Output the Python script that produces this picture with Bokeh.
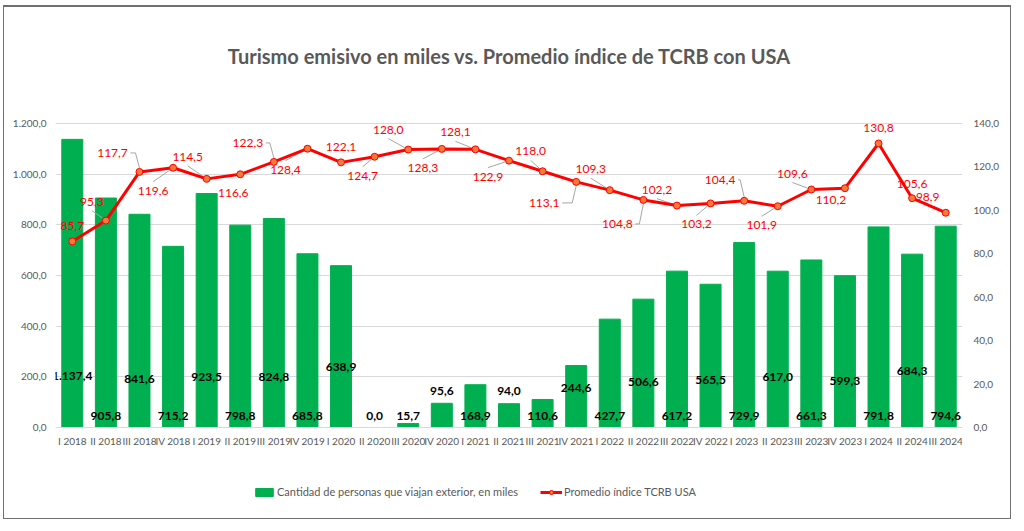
import math
from bokeh.plotting import figure
from bokeh.models import (FactorRange, Range1d, LinearAxis, ColumnDataSource, LabelSet, Label,
                          Legend, LegendItem, CustomJSTickFormatter, FixedTicker)
from bokeh.core.properties import value
from bokeh.embed import file_html
from bokeh.resources import INLINE

# ---------------- data ----------------
quarters = ["I 2018", "II 2018", "III 2018", "IV 2018",
            "I 2019", "II 2019", "III 2019", "IV 2019",
            "I 2020", "II 2020", "III 2020", "IV 2020",
            "I 2021", "II 2021", "III 2021", "IV 2021",
            "I 2022", "II 2022", "III 2022", "IV 2022",
            "I 2023", "II 2023", "III 2023", "IV 2023",
            "I 2024", "II 2024", "III 2024"]
travellers = [1137.4, 905.8, 841.6, 715.2,
              923.5, 798.8, 824.8, 685.8,
              638.9, 0.0, 15.7, 95.6,
              168.9, 94.0, 110.6, 244.6,
              427.7, 506.6, 617.2, 565.5,
              729.9, 617.0, 661.3, 599.3,
              791.8, 684.3, 794.6]
tcrb = [85.7, 95.3, 117.7, 119.6,
        114.5, 116.6, 122.3, 128.4,
        122.1, 124.7, 128.0, 128.3,
        128.1, 122.9, 118.0, 113.1,
        109.3, 104.8, 102.2, 103.2,
        104.4, 101.9, 109.6, 110.2,
        130.8, 105.6, 98.9]
left_ticks = [0, 200, 400, 600, 800, 1000, 1200]
right_ticks = [0, 20, 40, 60, 80, 100, 120, 140]
series_bar = "Cantidad de personas que viajan exterior, en miles"
series_line = "Promedio índice TCRB USA"
title_text = "Turismo emisivo en miles vs. Promedio índice de TCRB con USA"

# ---------------- layout / styling (pixels, figure coordinates) ----------------
W, H = 1008, 514                   # figure size (page origin of figure content is (4, 7))
MB_L, MB_R, MB_T, MB_B = 51, 50, 10, 20
FRAME_TOP, FRAME_BOT = MB_T, H - MB_B
Y0_PX, YMAX_PX = 420, 116          # where 0 and the axis maxima sit
PX_X = (W - MB_L - MB_R) / len(quarters)
PX_YL = (Y0_PX - YMAX_PX) / left_ticks[-1]
PX_YR = (Y0_PX - YMAX_PX) / right_ticks[-1]

# bar label centre height above the axis (px)
bar_label_px = [52, 12, 49, 12, 51, 12, 51, 12, 61, 12, 12, 37, 12, 37, 12, 40,
                12, 46, 12, 48, 12, 51, 12, 47, 12, 57, 12]
# line label offsets (dx, dy) in px, screen-down positive, and leader style
line_lab_off = [(0, -15), (-14, -19), (-27, -19), (-20, 23), (-19, -22), (-7, 19), (-26, -19),
                (-22, 21), (0, -15), (-12, 19), (-20, -20), (-19, 19), (-20, -17), (-21, 16),
                (-12, -20), (-32, 21), (-19, -21), (-26, 24), (-20, -16), (-14, 21), (-24, -21),
                (-16, 19), (-19, -16), (-14, 12), (0, -15), (0, -14), (-18, -16)]
leader = ["none", "line", "elbow", "line", "line", "none", "elbow", "line", "none", "line",
          "line", "line", "line", "line", "line", "elbow", "line", "elbow", "line", "line",
          "elbow", "line", "line", "none", "none", "none", "line"]

GREEN = "#00B050"
RED = "#FF0000"
GRAY_TXT = "#595959"
FONT = "Lato"


def fmt(v):
    s = f"{v:,.1f}"
    return s.replace(",", "X").replace(".", ",").replace("X", ".")


def yl(py):  # figure pixel y -> left-axis data
    return (Y0_PX - py) / PX_YL


centers = [i + 0.5 for i in range(len(quarters))]
src = ColumnDataSource(dict(
    q=quarters, x=centers, travel=travellers, tcrb=tcrb,
    travel_lbl=[fmt(v) for v in travellers],
    travel_lbl_y=[h / PX_YL for h in bar_label_px],
    tcrb_lbl=[fmt(v) for v in tcrb],
    tcrb_lbl_x=[c + dx / PX_X for c, (dx, dy) in zip(centers, line_lab_off)],
    tcrb_lbl_y=[v - dy / PX_YR for v, (dx, dy) in zip(tcrb, line_lab_off)],
))

# leader lines
lx, ly = [], []
for c, v, (dx, dy), kind in zip(centers, tcrb, line_lab_off, leader):
    if kind == "none":
        continue
    sign = 1 if dy < 0 else -1
    if kind == "line":
        sx, sy = dx, dy + sign * 9
        L = math.hypot(sx, sy)
        pts = [(sx, sy), (sx / L * 4, sy / L * 4)]
    else:
        pts = [(dx + 18, dy), (-4, dy), (0, -4 * sign)]
    lx.append([c + px / PX_X for px, py in pts])
    ly.append([v - py / PX_YR for px, py in pts])

y_left = Range1d(yl(FRAME_BOT), yl(FRAME_TOP))
y_right = Range1d((Y0_PX - FRAME_BOT) / PX_YR, (Y0_PX - FRAME_TOP) / PX_YR)

p = figure(width=W, height=H, x_range=FactorRange(factors=quarters, range_padding=0),
           y_range=y_left, output_backend="svg", toolbar_location=None, title=None,
           min_border_left=MB_L, min_border_right=MB_R, min_border_top=MB_T, min_border_bottom=MB_B,
           margin=(5, 0, 0, 3),
           styles={"border-left": "1px solid #707070", "border-right": "1px solid #707070",
                   "border-bottom": "1px solid #707070", "border-top": "2px solid #707070"})
p.extra_y_ranges = {"right": y_right}
p.outline_line_color = None
p.background_fill_color = "white"
p.border_fill_color = "white"

fmt_js = CustomJSTickFormatter(code="""
    const s = tick.toFixed(1);
    let [ip, dp] = s.split(".");
    ip = ip.replace(/\\B(?=(\\d{3})+(?!\\d))/g, ".");
    return ip + "," + dp;
""")

# axes
p.xaxis.fixed_location = 0
p.xaxis.axis_line_color = "#D9D9D9"
p.xaxis.major_tick_line_color = None
p.xaxis.major_tick_out = 0
p.xaxis.major_tick_in = 0
p.xaxis.minor_tick_line_color = None
p.xaxis.major_label_text_font = FONT
p.xaxis.major_label_text_font_size = "10px"
p.xaxis.major_label_text_color = GRAY_TXT
p.xaxis.major_label_standoff = 7
p.xgrid.grid_line_color = None

p.yaxis.ticker = FixedTicker(ticks=left_ticks)
p.yaxis.formatter = fmt_js
p.yaxis.axis_line_color = None
p.yaxis.major_tick_line_color = None
p.yaxis.major_tick_out = 0
p.yaxis.minor_tick_line_color = None
p.yaxis.major_label_text_font = FONT
p.yaxis.major_label_text_font_size = "10px"
p.yaxis.major_label_text_color = GRAY_TXT
p.yaxis.major_label_standoff = 9
p.ygrid.grid_line_color = "#D9D9D9"
p.ygrid.ticker = FixedTicker(ticks=left_ticks)

rax = LinearAxis(y_range_name="right", ticker=FixedTicker(ticks=right_ticks), formatter=fmt_js,
                 axis_line_color=None, major_tick_line_color=None, minor_tick_line_color=None,
                 major_tick_out=0, major_label_text_font=FONT, major_label_text_font_size="10px",
                 major_label_text_color=GRAY_TXT, major_label_standoff=11)
p.add_layout(rax, "right")

# glyphs
r_bar = p.vbar(x="q", top="travel", bottom=0, width=0.625, source=src, fill_color=GREEN, line_color=GREEN)
p.multi_line(xs=lx, ys=ly, y_range_name="right", line_color="#A6A6A6", line_width=1)
r_line = p.line(x="q", y="tcrb", source=src, y_range_name="right", line_color=RED, line_width=3)
r_pts = p.scatter(x="q", y="tcrb", source=src, y_range_name="right", size=7,
                  fill_color="#F4793B", line_color=RED, line_width=1)

p.add_layout(LabelSet(x="x", y="travel_lbl_y", text="travel_lbl", source=src,
                      text_font=value(FONT), text_font_style="bold", text_font_size="12px",
                      text_color="black", text_align="center", text_baseline="middle"))
p.add_layout(LabelSet(x="tcrb_lbl_x", y="tcrb_lbl_y", text="tcrb_lbl", source=src, y_range_name="right",
                      text_font=value(FONT), text_font_size="12px",
                      text_color=RED, text_align="center", text_baseline="middle"))

# title (inside the plotting area, above the value range)
p.add_layout(Label(x=(505 - MB_L) / PX_X, y=yl(48), text=title_text, text_font=FONT,
                   text_font_style="bold", text_font_size="20px", text_color=GRAY_TXT,
                   text_align="center", text_baseline="middle"))

# legend below the category labels
legend = Legend(items=[LegendItem(label=series_bar, renderers=[r_bar]),
                       LegendItem(label=series_line, renderers=[r_line, r_pts])],
                orientation="horizontal", location=(198, 3), padding=0, margin=0, spacing=22,
                glyph_width=22, glyph_height=10, label_height=10, label_standoff=2,
                label_text_font=FONT, label_text_font_size="11px", label_text_color=GRAY_TXT,
                border_line_color=None, background_fill_alpha=0)
p.add_layout(legend)

open("out.html", "w").write(file_html(p, INLINE))
